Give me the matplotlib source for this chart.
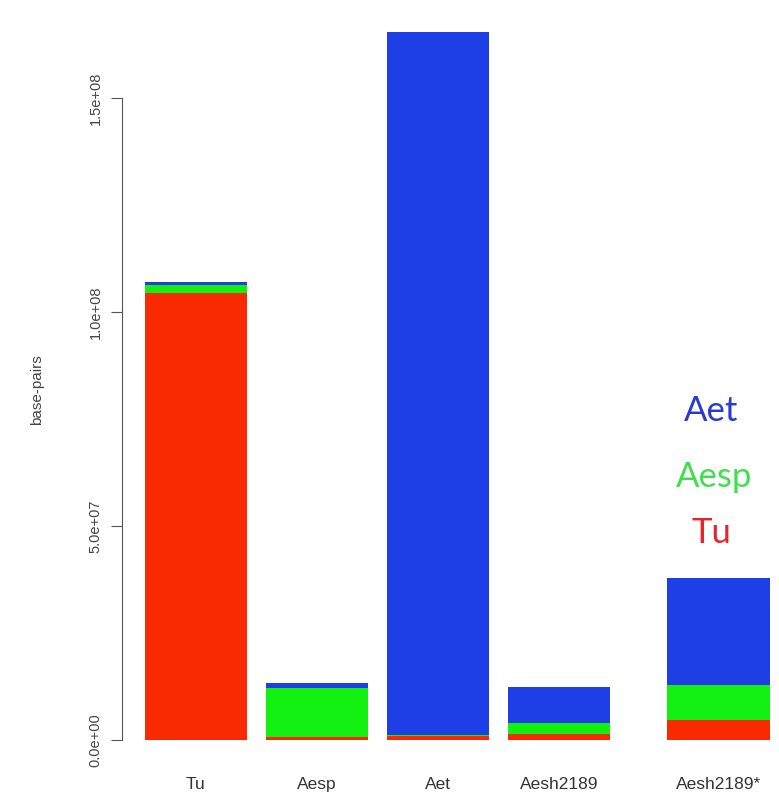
import numpy as np
import matplotlib
matplotlib.use("Agg")
import matplotlib.pyplot as plt

# ======================================================
# DATOS (pares de bases por origen)
# ======================================================

muestras = ["Tu", "Aesp", "Aet", "Aesh2189", "Aesh2189*"]
posiciones = [1, 2, 3, 4, 5.32]

tu_bp = [1.044e8, 0.08e7, 0.10e7, 0.15e7, 0.47e7]
aesp_bp = [0.20e7, 1.13e7, 0.02e7, 0.25e7, 0.81e7]
aet_bp = [0.06e7, 0.12e7, 16.42e7, 0.84e7, 2.50e7]

y_ticks = [0, 5e7, 1e8, 1.5e8]
y_tick_labels = ["0.0e+00", "5.0e+07", "1.0e+08", "1.5e+08"]

col_tu = "#FA2A00"
col_aesp = "#12F012"
col_aet = "#1E3FE6"

# ======================================================
# FIGURA
# ======================================================

plt.rcParams["font.family"] = ["Liberation Sans", "DejaVu Sans"]

fig = plt.figure(figsize=(7.79, 8.01), dpi=100)
ax = fig.add_axes([122 / 779, 41 / 801, 657 / 779, 740 / 801])

tu = np.array(tu_bp)
aesp = np.array(aesp_bp)
aet = np.array(aet_bp)

ancho = 0.85
ax.bar(posiciones, tu, width=ancho, color=col_tu, linewidth=0)
ax.bar(posiciones, aesp, width=ancho, bottom=tu, color=col_aesp, linewidth=0)
ax.bar(posiciones, aet, width=ancho, bottom=tu + aesp, color=col_aet, linewidth=0)

ax.set_xlim(1 - 74 / 121, 1 + 583 / 121)
ax.set_ylim(-20 / 42.8 * 1e7, 720 / 42.8 * 1e7)

for s in ["top", "right", "bottom"]:
    ax.spines[s].set_visible(False)
ax.spines["left"].set_bounds(0, 1.5e8)
ax.spines["left"].set_color("#555555")

ax.set_yticks(y_ticks)
ax.set_yticklabels(y_tick_labels, rotation=90, va="center", fontsize=10.5, color="#444444")
ax.tick_params(axis="y", length=8, color="#555555", pad=6)

ax.set_xticks(posiciones)
ax.set_xticklabels(muestras, fontsize=12.5, color="#333333")
ax.tick_params(axis="x", length=0, pad=12)

ax.set_ylabel("base-pairs", fontsize=11, color="#444444", labelpad=32)

# leyenda como texto
ax.text(5.26, 7.69e7, "Aet", color="#2A3AD0", fontsize=25, family="Lato",
        ha="center", va="center")
ax.text(5.28, 6.14e7, "Aesp", color="#3FE04E", fontsize=25, family="Lato",
        ha="center", va="center")
ax.text(5.26, 4.84e7, "Tu", color="#E52430", fontsize=25, family="Lato",
        ha="center", va="center")

plt.savefig("out.png", dpi=100)
